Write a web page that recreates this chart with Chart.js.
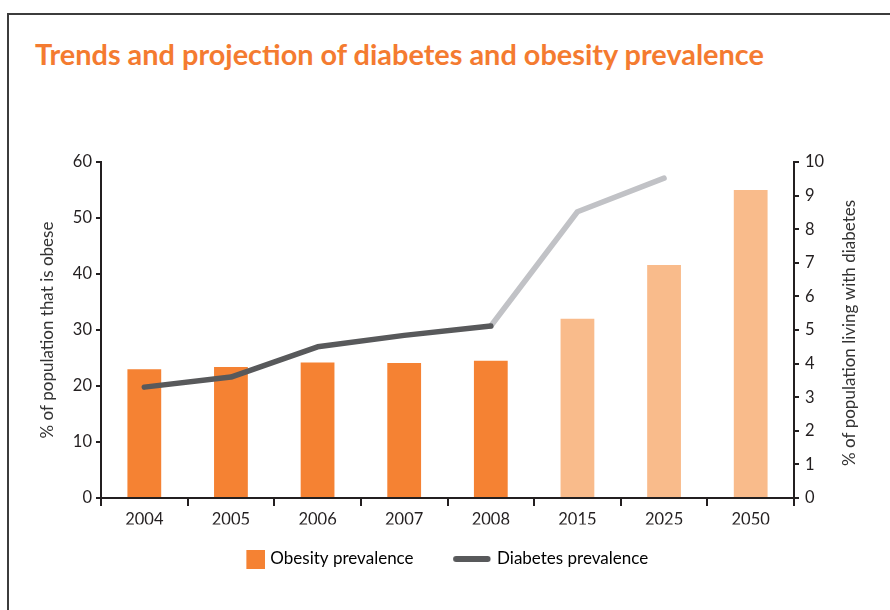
<!DOCTYPE html>
<html>
<head>
<meta charset="utf-8">
<script src="https://cdn.jsdelivr.net/npm/chart.js@4.4.1/dist/chart.umd.min.js"></script>
<style>
  html, body { margin: 0; padding: 0; background: #fff; }
  #wrap { position: relative; width: 890px; height: 610px; overflow: hidden; }
  #frame { position: absolute; left: 7px; top: 13px; width: 900px; height: 700px;
           border-left: 2px solid #3c3c3c; border-top: 2px solid #3c3c3c; }
  #title { position: absolute; left: 35px; top: 36px; margin: 0;
           font: bold 28.9px Lato, sans-serif; color: #F47B30; white-space: nowrap; }
  #box { position: absolute; left: 0; top: 0; width: 890px; height: 610px; }
</style>
</head>
<body>
<div id="wrap">
  <div id="frame"></div>
  <h1 id="title">Trends and projection of diabetes and obesity prevalence</h1>
  <div id="box"><canvas id="chart"></canvas></div>
</div>
<script>
const years = ['2004', '2005', '2006', '2007', '2008', '2015', '2025', '2050'];
const obesity = [23.0, 23.4, 24.2, 24.1, 24.5, 32.0, 41.6, 55.0];
const diabetesRecorded = [3.3, 3.6, 4.5, 4.84, 5.12, null, null, null];
const diabetesProjected = [null, null, null, null, 5.12, 8.52, 9.52, null];
const isProjection = [false, false, false, false, false, true, true, true];

const ORANGE = '#F58233';
const ORANGE_LIGHT = '#F9BB8B';
const GREY_DARK = '#58595B';
const GREY_LIGHT = '#C1C2C6';
const INK = '#231F20';
const FONT = 'Lato, sans-serif';

// legend swatches: small canvases so the square and the line can differ in size
function swatch(w, h, draw) {
  const c = document.createElement('canvas');
  c.width = w; c.height = h;
  draw(c.getContext('2d'));
  return c;
}
const squareSwatch = swatch(56, 19, g => { g.fillStyle = ORANGE; g.fillRect(37, 0, 19, 19); });
const lineSwatch = swatch(54, 8, g => {
  g.strokeStyle = GREY_DARK; g.lineWidth = 6; g.lineCap = 'round';
  g.beginPath(); g.moveTo(19, 4); g.lineTo(50.5, 4); g.stroke();
});

// right axis title reads bottom-to-top like the left one
const rightTitle = {
  id: 'rightTitle',
  afterDraw(chart) {
    const s = chart.scales.y2;
    const ctx = chart.ctx;
    ctx.save();
    ctx.translate(chart.width - 40, (s.top + s.bottom) / 2 + 3);
    ctx.rotate(-Math.PI / 2);
    ctx.font = '17px ' + FONT;
    ctx.fillStyle = '#333';
    ctx.textAlign = 'center';
    ctx.textBaseline = 'middle';
    ctx.fillText('% of population living with diabetes', 0, 0);
    ctx.restore();
  }
};

const ctx = document.getElementById('chart').getContext('2d');

new Chart(ctx, {
  type: 'bar',
  data: {
    labels: years,
    datasets: [
      {
        type: 'line',
        label: 'Diabetes prevalence',
        data: diabetesRecorded,
        yAxisID: 'y2',
        borderColor: GREY_DARK,
        borderWidth: 5.5,
        borderCapStyle: 'round',
        borderJoinStyle: 'round',
        pointRadius: 0,
        tension: 0,
        order: 0
      },
      {
        type: 'line',
        label: 'Diabetes projection',
        data: diabetesProjected,
        yAxisID: 'y2',
        borderColor: GREY_LIGHT,
        borderWidth: 5.5,
        borderCapStyle: 'round',
        borderJoinStyle: 'round',
        pointRadius: 0,
        tension: 0,
        order: 1
      },
      {
        label: 'Obesity prevalence',
        data: obesity,
        yAxisID: 'y',
        backgroundColor: isProjection.map(p => p ? ORANGE_LIGHT : ORANGE),
        barPercentage: 0.39,
        categoryPercentage: 1,
        order: 2
      }
    ]
  },
  options: {
    responsive: true,
    maintainAspectRatio: false,
    animation: false,
    layout: { padding: { top: 162, left: 0, right: 29, bottom: 32.5 } },
    scales: {
      x: {
        offset: true,
        afterFit: s => { s.height = 26.5; },
        grid: { offset: true, drawOnChartArea: false, tickLength: 8, color: INK, lineWidth: 2 },
        border: { color: INK, width: 2 },
        ticks: { color: INK, font: { family: FONT, size: 16.5 }, padding: 4 }
      },
      y: {
        position: 'left',
        min: 0, max: 60,
        afterFit: s => { s.width = 101; },
        grid: { drawOnChartArea: false, tickLength: 5, color: INK, lineWidth: 2 },
        border: { color: INK, width: 2 },
        ticks: { stepSize: 10, color: INK, font: { family: FONT, size: 16.5 }, padding: 4 },
        title: {
          display: true,
          text: '% of population that is obese',
          color: '#333',
          font: { family: FONT, size: 17 },
          padding: { top: 37.8, bottom: 0 }
        }
      },
      y2: {
        position: 'right',
        min: 0, max: 10,
        afterFit: s => { s.width = 67; },
        grid: { drawOnChartArea: false, tickLength: 5, color: INK, lineWidth: 2 },
        border: { color: INK, width: 2 },
        ticks: { stepSize: 1, color: INK, font: { family: FONT, size: 16.5 }, padding: 6 }
      }
    },
    plugins: {
      tooltip: { enabled: false },
      legend: {
        position: 'bottom',
        align: 'center',
        labels: {
          usePointStyle: true,
          pointStyleWidth: 49,
          padding: 26,
          color: '#333',
          font: { family: FONT, size: 17 },
          generateLabels: () => [
            { text: 'Obesity prevalence', pointStyle: squareSwatch, fillStyle: ORANGE, strokeStyle: ORANGE, lineWidth: 0, datasetIndex: 2 },
            { text: 'Diabetes prevalence', pointStyle: lineSwatch, fillStyle: GREY_DARK, strokeStyle: GREY_DARK, lineWidth: 0, datasetIndex: 0 }
          ]
        }
      }
    }
  },
  plugins: [rightTitle]
});
</script>
</body>
</html>
